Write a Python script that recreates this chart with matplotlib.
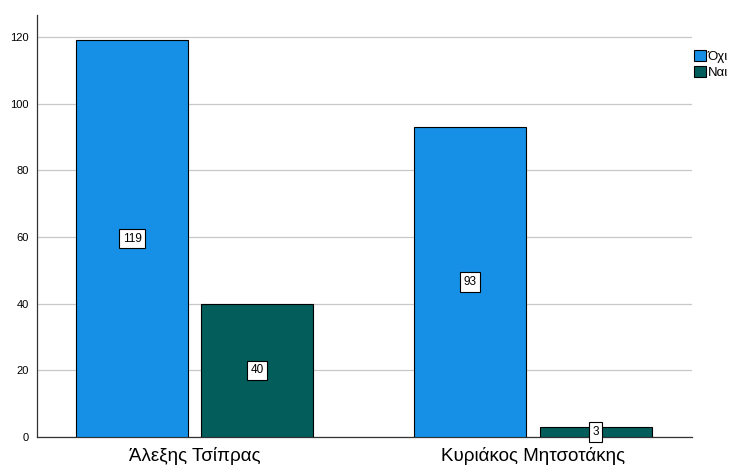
import numpy as np
import matplotlib
matplotlib.use('Agg')
import matplotlib.pyplot as plt

plt.rcParams['font.family'] = ['Liberation Sans', 'DejaVu Sans']

# data
categories = ['Άλεξης Τσίπρας', 'Κυριάκος Μητσοτάκης']
series_names = ['Όχι', 'Ναι']
values_oxi = [119, 93]
values_nai = [40, 3]
yticks = [0, 20, 40, 60, 80, 100, 120]

colors = ['#1590e6', '#035d5b']

fig = plt.figure(figsize=(7.33, 4.66), dpi=100)
ax = fig.add_axes([37 / 733, 1 - 437 / 466, (692 - 37) / 733, (437 - 15) / 466])

x = np.arange(len(categories))
width = 0.331
offset = 0.185

for vals, off, col, name in [(values_oxi, -offset, colors[0], series_names[0]),
                             (values_nai, offset, colors[1], series_names[1])]:
    bars = ax.bar(x + off, vals, width, color=col, edgecolor='black',
                  linewidth=0.8, label=name, zorder=3)
    for b, v in zip(bars, vals):
        ax.text(b.get_x() + b.get_width() / 2, v / 2, str(v),
                ha='center', va='center', fontsize=8.5, zorder=4,
                bbox=dict(facecolor='white', edgecolor='black',
                          linewidth=0.8, boxstyle='square,pad=0.3'))

ax.set_xlim(-0.466, 1.470)
ax.set_ylim(0, 126.6)
ax.set_yticks(yticks)
ax.set_yticklabels([str(t) for t in yticks], fontsize=8)
ax.set_xticks(x)
ax.set_xticklabels(categories, fontsize=13.5)
ax.tick_params(axis='both', length=0)
ax.tick_params(axis='y', pad=6)
ax.tick_params(axis='x', pad=7)

ax.yaxis.grid(True, color='#c8c8c8', linewidth=0.9, zorder=0)
ax.set_axisbelow(True)

for s in ['top', 'right']:
    ax.spines[s].set_visible(False)
for s in ['left', 'bottom']:
    ax.spines[s].set_color('#333333')
    ax.spines[s].set_linewidth(0.9)

leg = ax.legend(loc='upper left', bbox_to_anchor=(1.003, 0.918), frameon=False,
                fontsize=9.5, handlelength=0.95, handleheight=1.0,
                handletextpad=0.1, labelspacing=0.2, borderaxespad=0,
                borderpad=0)

fig.savefig('out.png', dpi=100)
